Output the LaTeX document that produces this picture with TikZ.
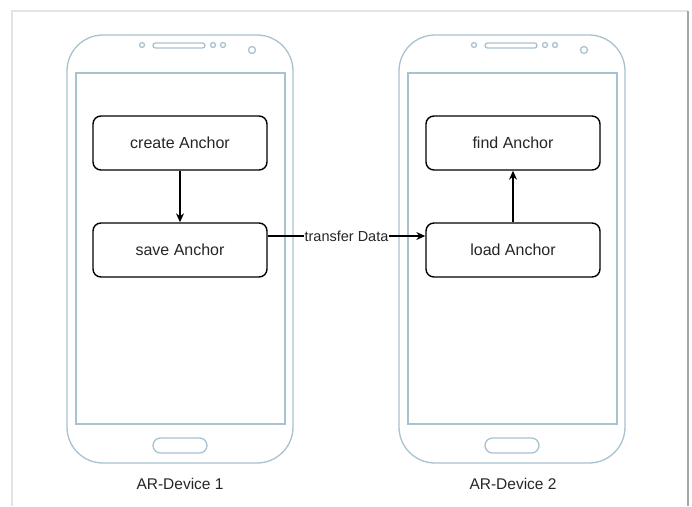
\documentclass[tikz,border=0pt]{standalone}
\usepackage{fontspec}
\setmainfont{Liberation Sans}
\usetikzlibrary{arrows.meta,positioning,calc}
\definecolor{phoneline}{HTML}{A8C2D0}
\definecolor{textgray}{HTML}{262626}
\definecolor{framelight}{HTML}{E4E4E4}
\definecolor{framedark}{HTML}{A6A6A6}
\newcommand{\handset}[1]{%
  \begin{scope}[shift={(#1,0)}]
    \draw[phone,rounded corners=36pt] (67,35) rectangle (293,463);
    \draw[phone] (76,73) rectangle (285,424);
    \draw[phone,rounded corners=2.5pt] (153,43) rectangle (205,48);
    \draw[phone] (142,45) circle[radius=2.5];
    \draw[phone] (213,45) circle[radius=2.5];
    \draw[phone] (223,45) circle[radius=2.5];
    \draw[phone] (252,50) circle[radius=3.5];
    \draw[phone,rounded corners=7.5pt] (153,438) rectangle (207,453);
  \end{scope}}

\begin{document}
\begin{tikzpicture}[x=1pt,y=-1pt,
  phone/.style={draw=phoneline,line width=1.3pt},
  stepbox/.style={draw=black,line width=1.4pt,rounded corners=8pt,fill=white,
    minimum width=174pt,minimum height=54pt,text=textgray,
    font=\fontsize{16}{19}\selectfont},
  arr/.style={-{Stealth[length=9pt,width=8pt]},line width=1.3pt},
  lbl/.style={fill=white,inner sep=1pt,text=textgray,
    font=\fontsize{14.5}{17}\selectfont},
  devlabel/.style={text=textgray,font=\fontsize{15.5}{18}\selectfont}]
\useasboundingbox (0,0) rectangle (692,506);
% page frame
\draw[framelight,line width=1.2pt] (12,506) -- (12,11) -- (688,11);
\draw[framedark,line width=2pt] (688,11) -- (688,506);
% the two phones
\handset{0}
\handset{332}
\node[stepbox] (create) at (180,143) {create Anchor};
\node[stepbox] (save) at (180,250) {save Anchor};
\node[stepbox] (find) at (513,143) {find Anchor};
\node[stepbox] (load) at (513,250) {load Anchor};
\draw[arr] (create) -- (save);
\draw[arr] (load) -- (find);
\draw[arr] ([yshift=14pt]save.east) -- node[lbl] {transfer Data} ([yshift=14pt]load.west);
\node[devlabel] (dev1) at (180,484) {AR-Device 1};
\node[devlabel] (dev2) at (513,484) {AR-Device 2};
\end{tikzpicture}
\end{document}
